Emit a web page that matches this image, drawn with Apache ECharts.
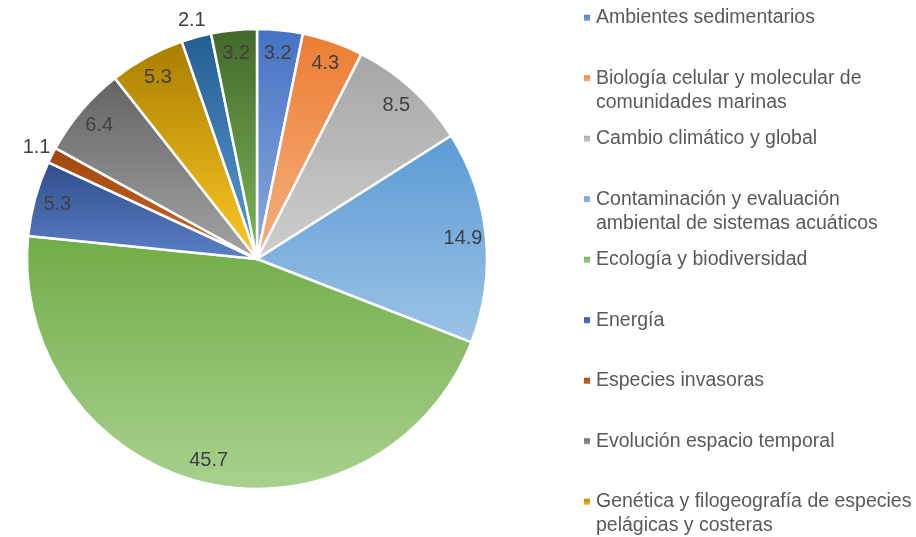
<!DOCTYPE html>
<html>
<head>
<meta charset="utf-8">
<script src="https://cdn.jsdelivr.net/npm/echarts@6/dist/echarts.min.js"></script>
<style>
    html, body { margin: 0; padding: 0; background: #fff; }
    #chartData { width: 916px; height: 537px; }
</style>
</head>
<body>
<div id="chartData"></div>
<script>
// datos del gráfico (porcentaje por línea de investigación)
var categorias = [
    'Ambientes sedimentarios',
    'Biología celular y molecular de comunidades marinas',
    'Cambio climático y global',
    'Contaminación y evaluación ambiental de sistemas acuáticos',
    'Ecología y biodiversidad',
    'Energía',
    'Especies invasoras',
    'Evolución espacio temporal',
    'Genética y filogeografía de especies pelágicas y costeras',
    'Oceanografía física',
    'Pesquerías'
];
var valores = [3.2, 4.3, 8.5, 14.9, 45.7, 5.3, 1.1, 6.4, 5.3, 2.1, 3.2];
// etiquetas que van fuera de la torta
var etiquetasFuera = ['Especies invasoras', 'Oceanografía física'];

// colores (arriba, abajo) de cada degradado
var colores = [
    ['#4472C4', '#8FAADC'],
    ['#ED7D31', '#F4B183'],
    ['#A5A5A5', '#CFCFCF'],
    ['#5B9BD5', '#9DC3E6'],
    ['#70AD47', '#A9D18E'],
    ['#2F4D8A', '#5B80C8'],
    ['#9E480E', '#D0662A'],
    ['#636363', '#A5A5A5'],
    ['#A87E00', '#FFC825'],
    ['#255E91', '#5B9BD5'],
    ['#43682B', '#7DB85A']
];

var fuenteLeyenda = '19.5px "Liberation Sans", Arial, sans-serif';

// parte el texto de la leyenda en líneas de ancho máximo
var ctx = document.createElement('canvas').getContext('2d');
ctx.font = fuenteLeyenda;
function partir(texto, ancho) {
    var palabras = texto.split(' ');
    var lineas = [];
    var actual = '';
    for (var i = 0; i < palabras.length; i++) {
        var prueba = actual ? actual + ' ' + palabras[i] : palabras[i];
        if (actual && ctx.measureText(prueba).width > ancho) {
            lineas.push(actual);
            actual = palabras[i];
        } else {
            actual = prueba;
        }
    }
    lineas.push(actual);
    return lineas;
}

var myChart = echarts.init(document.getElementById('chartData'));

var datosTorta = categorias.map(function (nombre, i) {
    return {
        name: nombre,
        value: valores[i],
        itemStyle: {
            color: new echarts.graphic.LinearGradient(0, 0, 0, 1, [
                { offset: 0, color: colores[i][0] },
                { offset: 1, color: colores[i][1] }
            ])
        }
    };
});

function datosEtiquetas(fuera) {
    return categorias.map(function (nombre, i) {
        var esFuera = etiquetasFuera.indexOf(nombre) >= 0;
        return {
            name: nombre,
            value: valores[i],
            label: { show: fuera ? esFuera : !esFuera }
        };
    });
}

var centro = [257, 259];
var etiqueta = {
    position: 'inside',
    formatter: function (p) { return p.value.toFixed(1); },
    fontFamily: '"Liberation Sans", Arial, sans-serif',
    fontSize: 20,
    color: '#404040'
};

// una leyenda por elemento, para respetar el espaciado de Excel
var leyendas = categorias.map(function (nombre, i) {
    var lineas = partir(nombre, 320);
    var texto = lineas.join('\n');
    var arriba = 15.2 + i * 60.5 - 9.5;
    if (lineas.length > 1) {
        // línea vacía delante para que el marcador quede en la primera línea
        texto = ' \n' + texto;
        arriba -= 24;
    }
    return {
        orient: 'vertical',
        left: 582,
        top: arriba,
        padding: 0,
        itemWidth: 8,
        itemHeight: 8,
        icon: 'rect',
        selectedMode: false,
        data: [nombre],
        formatter: function () { return texto; },
        textStyle: {
            fontFamily: '"Liberation Sans", Arial, sans-serif',
            fontSize: 19.5,
            lineHeight: 24,
            color: '#595959'
        }
    };
});

var option = {
    animation: false,
    legend: leyendas,
    series: [
        {
            name: 'torta',
            type: 'pie',
            center: centro,
            radius: 230,
            startAngle: 90,
            clockwise: true,
            label: { show: false },
            labelLine: { show: false },
            itemStyle: { borderColor: '#fff', borderWidth: 2.5 },
            emphasis: { disabled: true },
            data: datosTorta
        },
        {
            name: 'etiquetas',
            type: 'pie',
            center: centro,
            radius: [180, 228],
            silent: true,
            avoidLabelOverlap: false,
            itemStyle: { color: 'transparent' },
            label: etiqueta,
            labelLine: { show: false },
            data: datosEtiquetas(false)
        },
        {
            name: 'etiquetasFuera',
            type: 'pie',
            center: centro,
            radius: [222, 266],
            silent: true,
            avoidLabelOverlap: false,
            itemStyle: { color: 'transparent' },
            label: etiqueta,
            labelLine: { show: false },
            data: datosEtiquetas(true)
        }
    ]
};

myChart.setOption(option);
</script>
</body>
</html>
